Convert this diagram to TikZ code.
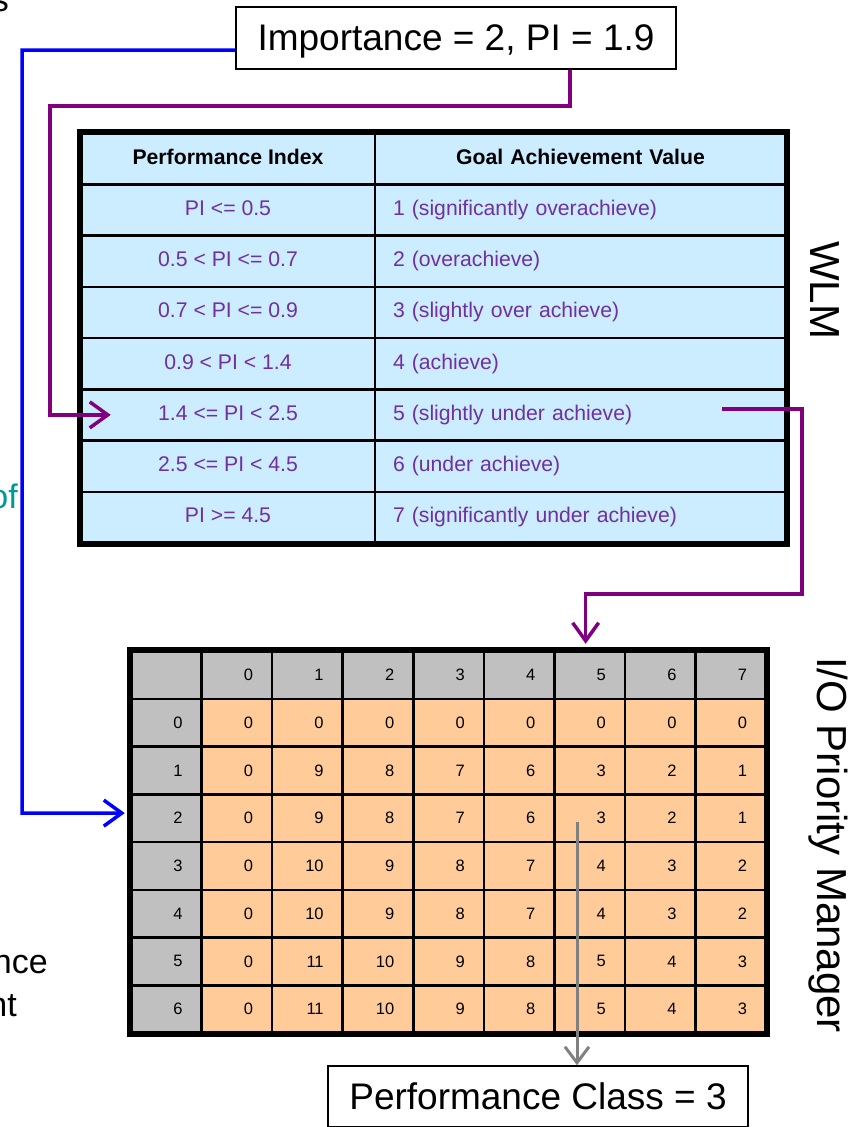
\documentclass[tikz,border=0pt]{standalone}
\usepackage{fontspec}
\setmainfont{Liberation Sans}
\usetikzlibrary{arrows.meta,calc}
\definecolor{tblue}{HTML}{CCECFF}
\definecolor{tpurple}{HTML}{7030A0}
\definecolor{lpurple}{HTML}{800080}
\definecolor{gorange}{HTML}{FFCC99}
\definecolor{ggray}{HTML}{C0C0C0}
\definecolor{tealtxt}{HTML}{009999}
\definecolor{arrgray}{HTML}{808080}
\begin{document}
\begin{tikzpicture}[x=1pt,y=-1pt,
  bigbox/.style={draw=black, line width=1.5pt, fill=white, inner sep=0pt, text depth=0pt, font=\fontsize{37}{44}\selectfont},
  sidelbl/.style={font=\fontsize{42}{50}\selectfont, rotate=-90, anchor=base, inner sep=0pt},
  cuttxt/.style={font=\fontsize{34}{40}\selectfont, anchor=base east, inner sep=0pt},
  wbase/.style={draw=black, line width=2.5pt, fill=tblue, minimum height=51.25pt, inner ysep=0pt, text height=15.5pt, text depth=4.5pt, font=\fontsize{21.2}{25}\selectfont, text=tpurple},
  wleft/.style={wbase, minimum width=294pt, inner xsep=0pt},
  wright/.style={wbase, text width=375pt, inner xsep=18pt, align=left},
  whead/.style={font=\bfseries\fontsize{21.2}{25}\selectfont, text=black},
  gbase/.style={draw=black, line width=2.5pt, minimum height=47.75pt, text width=32.5pt, inner xsep=19pt, inner ysep=0pt, align=right, font=\fontsize{16.5}{19}\selectfont},
  ghead/.style={gbase, fill=ggray},
  gcell/.style={gbase, fill=gorange},
  conn/.style={line width=3.5pt, -{Straight Barb[length=18pt,width=26pt]}},
  bline/.style={conn, draw=blue},
  pline/.style={conn, draw=lpurple},
  gline/.style={line width=3pt, draw=arrgray, -{Straight Barb[length=16pt,width=24pt]}}
]
\useasboundingbox (0,0) rectangle (854,1127);
\clip (0,0) rectangle (854,1127);

% partial texts at left edge (cut by the picture's edge, as in the reference)
\node[cuttxt] (ts) at (9,12) {s};
\node[cuttxt, text=tealtxt] (tof) at (18,508) {of};
\node[cuttxt] (tnce) at (48,973) {nce};
\node[cuttxt] (tnt) at (17,1016) {nt};

% top box
\node[bigbox, minimum width=440pt, minimum height=62pt] (imp) at (456,38) {Importance = 2, PI = 1.9};

% WLM table
\node[wleft, whead] (w-0-0) at (228,{133+0.5*51.25}) {Performance Index};
\node[wright, whead, align=center] (w-0-1) at (580.5,{133+0.5*51.25}) {Goal Achievement Value};
\foreach \a/\b [count=\i] in {PI <= 0.5/1 (significantly overachieve),
  0.5 < PI <= 0.7/2 (overachieve),
  0.7 < PI <= 0.9/3 (slightly over achieve),
  0.9 < PI < 1.4/4 (achieve),
  1.4 <= PI < 2.5/5 (slightly under achieve),
  2.5 <= PI < 4.5/6 (under achieve),
  PI >= 4.5/7 (significantly under achieve)} {
  \node[wleft] (w-\i-0) at (228,{133+(\i+0.5)*51.25}) {\a};
  \node[wright] (w-\i-1) at (580.5,{133+(\i+0.5)*51.25}) {\b};
}
\draw[line width=6pt] (w-0-0.north west) rectangle (w-7-1.south east);
\node[sidelbl] (wlm) at (810,290) {WLM};

% I/O priority grid
\node[ghead] (g-0-0) at ({131+0.5*70.56},{651+0.5*47.75}) {};
\foreach \v [count=\c] in {0,1,2,3,4,5,6,7}
  \node[ghead] (g-0-\c) at ({131+(\c+0.5)*70.56},{651+0.5*47.75}) {\v};
\foreach \r/\lab in {1/0,2/1,3/2,4/3,5/4,6/5,7/6}
  \node[ghead] (g-\r-0) at ({131+0.5*70.56},{651+(\r+0.5)*47.75}) {\lab};
\foreach \v [count=\c] in {0,0,0,0,0,0,0,0}
  \node[gcell] (g-1-\c) at ({131+(\c+0.5)*70.56},{651+1.5*47.75}) {\v};
\foreach \v [count=\c] in {0,9,8,7,6,3,2,1}
  \node[gcell] (g-2-\c) at ({131+(\c+0.5)*70.56},{651+2.5*47.75}) {\v};
\foreach \v [count=\c] in {0,9,8,7,6,3,2,1}
  \node[gcell] (g-3-\c) at ({131+(\c+0.5)*70.56},{651+3.5*47.75}) {\v};
\foreach \v [count=\c] in {0,10,9,8,7,4,3,2}
  \node[gcell] (g-4-\c) at ({131+(\c+0.5)*70.56},{651+4.5*47.75}) {\v};
\foreach \v [count=\c] in {0,10,9,8,7,4,3,2}
  \node[gcell] (g-5-\c) at ({131+(\c+0.5)*70.56},{651+5.5*47.75}) {\v};
\foreach \v [count=\c] in {0,11,10,9,8,5,4,3}
  \node[gcell] (g-6-\c) at ({131+(\c+0.5)*70.56},{651+6.5*47.75}) {\v};
\foreach \v [count=\c] in {0,11,10,9,8,5,4,3}
  \node[gcell] (g-7-\c) at ({131+(\c+0.5)*70.56},{651+7.5*47.75}) {\v};
\draw[line width=6pt] (g-0-0.north west) rectangle (g-7-8.south east);
\node[sidelbl] (iopm) at (817,845) {I/O Priority Manager};

% bottom box
\node[bigbox, minimum width=420pt, minimum height=61pt] (pc) at (538,1096.5) {Performance Class = 3};

% connectors
\coordinate (bl) at (22,813);
\draw[bline] ([yshift=-12pt]imp.west) -| (bl) -- ([xshift=-5pt,yshift=5pt]g-3-0.west);
\coordinate (p1) at (50,106);
\draw[pline] ([xshift=114pt]imp.south) |- (p1) |- ([xshift=31pt]w-5-0.west);
\coordinate (p2s) at (722,409);
\coordinate (p2c) at (802,594);
\draw[pline] (p2s) -| (p2c) -| ([xshift=-4pt,yshift=6pt]g-0-6.north);
\coordinate (gs) at (577,822);
\draw[gline] (gs) -- (gs |- pc.north);
\end{tikzpicture}
\end{document}
